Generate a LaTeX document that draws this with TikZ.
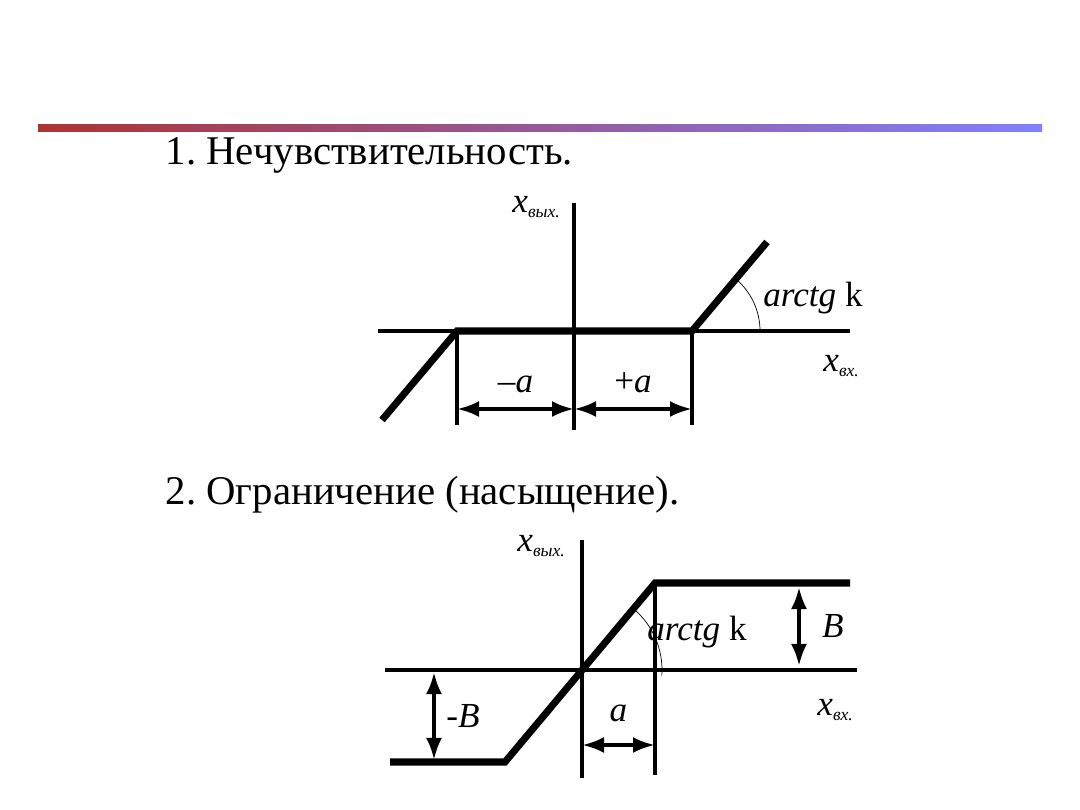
\documentclass[tikz,border=0pt]{standalone}
\usepackage{fontspec}
\setmainfont{Liberation Serif}
\usetikzlibrary{arrows.meta}
\frenchspacing

\begin{document}
\begin{tikzpicture}[x=0.01cm,y=-0.01cm,>={Latex[length=0.22cm,width=0.16cm]},
  axis/.style={line width=1.1pt},
  curve/.style={line width=2pt},
  dim/.style={line width=1.1pt,<->},
  lbl/.style={font=\fontsize{10}{11}\selectfont\itshape,inner sep=0pt},
  sub/.style={font=\fontsize{10}{11}\selectfont\itshape,inner sep=0pt},
  ttl/.style={font=\fontsize{11.6}{13}\selectfont,anchor=west,inner sep=0pt}]
  \useasboundingbox (0,0) rectangle (1080,810);
  \shade[left color=red!60!black!80!white, right color=blue!50!white] (38,125) rectangle (1042,132);

% first graph
  \node[ttl] (t1) at (165,155) {1. Нечувствительность.};
  \coordinate (o1) at (574,331);
  \coordinate (ma) at (457,331);
  \coordinate (pa) at (692,331);
  \draw[axis] (574,203) -- (574,430);
  \draw[axis] (378,331) -- (850,331);
  \draw[curve] (382,420) -- (ma) -- (pa) -- (767,242);
  \draw[axis] (ma) -- (457,425);
  \draw[axis] (pa) -- (692,425);
  \coordinate (d1) at (457,409);
  \coordinate (d2) at (574,409);
  \coordinate (d3) at (692,409);
  \draw[dim] (d1) -- node[lbl,above=4pt] {\upshape–\itshape a} (d2);
  \draw[dim] (d2) -- node[lbl,above=4pt] {\upshape+\itshape a} (d3);
  \draw[very thin] (760,331) arc[start angle=0,end angle=-50,radius=68];
  \node[lbl] (k1) at (813,298) {arctg \upshape k};
  \node[sub] (y1) at (537,207) {x\textsubscript{\tiny вых.}};
  \node[sub] (x1) at (842,366) {x\textsubscript{\tiny вх.}};

% second graph
  \node[ttl] (t2) at (165,495) {2. Ограничение (насыщение).};
  \coordinate (o2) at (582,670);
  \coordinate (s1) at (505,762);
  \coordinate (s2) at (655,583);
  \draw[axis] (582,540) -- (582,778);
  \draw[axis] (385,670) -- (857,670);
  \draw[curve] (390,762) -- (s1) -- (s2) -- (850,583);
  \draw[axis] (s2) -- (655,775);
  \draw[dim] (582,745) -- node[lbl,above=6pt] {a} (655,745);
  \draw[dim] (799,587) -- node[lbl,right=6pt] {B} (799,666);
  \draw[dim] (434,672) -- node[lbl,right=3pt] {\upshape-\itshape B} (434,760);
  \draw[very thin] (582,670) ++(-50:80) arc[start angle=-50,end angle=4,radius=80];
  \node[lbl] (k2) at (697,632) {arctg \upshape k};
  \node[sub] (y2) at (542,546) {x\textsubscript{\tiny вых.}};
  \node[sub] (x2) at (836,710) {x\textsubscript{\tiny вх.}};
\end{tikzpicture}
\end{document}
